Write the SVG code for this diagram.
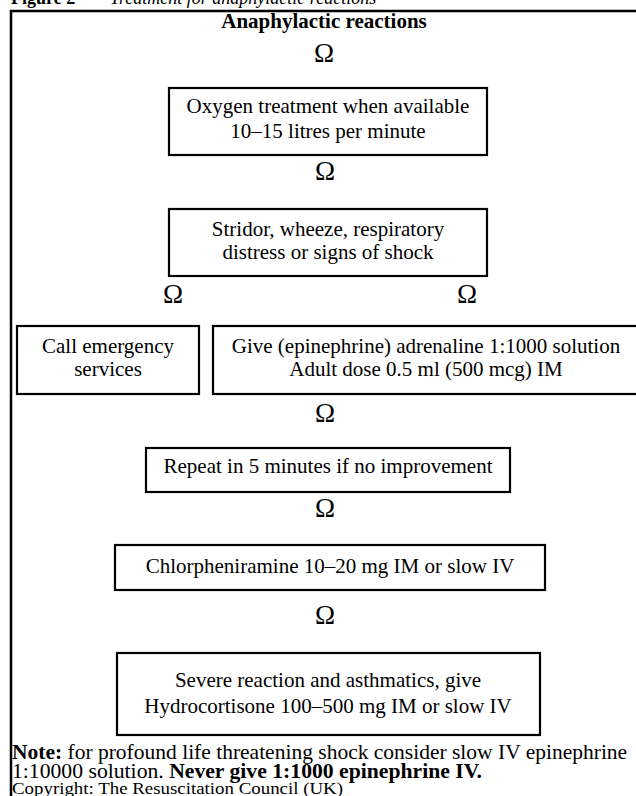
<svg xmlns="http://www.w3.org/2000/svg" width="636" height="796" viewBox="0 0 636 796">
<style>
text{font-family:"Liberation Serif","Times New Roman",serif;fill:#000}
.t{font-size:21px;text-anchor:middle}
.b{font-weight:bold}
.box{fill:#fff;stroke:#000;stroke-width:2.2}
.arr{font-size:27px;text-anchor:middle}
.note{font-size:21.5px}
</style>
<rect width="636" height="796" fill="#fff"/>
<g id="caption">
<text x="11" y="4" font-size="18" class="b">Figure 2</text>
<text x="86" y="4" font-size="18">–</text>
<text x="110" y="4" font-size="18" font-style="italic">Treatment for anaphylactic reactions</text>
</g>
<path id="frame" d="M636 11 H11 V796" fill="none" stroke="#000" stroke-width="2.5"/>
<g id="title"><text class="t b" x="324" y="28" font-size="20.5">Anaphylactic reactions</text></g>
<g id="connectors">
<text class="arr" x="324" y="62">Ω</text>
<text class="arr" x="325" y="180">Ω</text>
<text class="arr" x="173" y="303">Ω</text>
<text class="arr" x="467" y="303">Ω</text>
<text class="arr" x="325" y="422">Ω</text>
<text class="arr" x="325" y="517">Ω</text>
<text class="arr" x="325" y="624">Ω</text>
</g>
<g id="oxygen"><rect class="box" x="169" y="88" width="318" height="67"/>
<text class="t" x="328" y="113">Oxygen treatment when available</text>
<text class="t" x="328" y="138">10–15 litres per minute</text></g>
<g id="stridor"><rect class="box" x="169" y="209" width="318" height="67"/>
<text class="t" x="328" y="236">Stridor, wheeze, respiratory</text>
<text class="t" x="328" y="259">distress or signs of shock</text></g>
<g id="call"><rect class="box" x="17" y="326" width="182" height="68"/>
<text class="t" x="108" y="353">Call emergency</text>
<text class="t" x="108" y="376">services</text></g>
<g id="adrenaline"><rect class="box" x="213" y="326" width="430" height="68"/>
<text class="t" x="426" y="353">Give (epinephrine) adrenaline 1:1000 solution</text>
<text class="t" x="426" y="376">Adult dose 0.5 ml (500 mcg) IM</text></g>
<g id="repeat"><rect class="box" x="146" y="448" width="364" height="44"/>
<text class="t" x="328" y="473">Repeat in 5 minutes if no improvement</text></g>
<g id="chlorpheniramine"><rect class="box" x="115" y="545" width="430" height="45"/>
<text class="t" x="330" y="573">Chlorpheniramine 10–20 mg IM or slow IV</text></g>
<g id="hydrocortisone"><rect class="box" x="117" y="653" width="423" height="82"/>
<text class="t" x="328" y="687">Severe reaction and asthmatics, give</text>
<text class="t" x="328" y="713">Hydrocortisone 100–500 mg IM or slow IV</text></g>
<g id="note">
<text class="note" x="12" y="759"><tspan class="b">Note:</tspan> for profound life threatening shock consider slow IV epinephrine</text>
<text class="note" x="12" y="778" textLength="470" lengthAdjust="spacingAndGlyphs">1:10000 solution. <tspan class="b">Never give 1:1000 epinephrine IV.</tspan></text>
<text x="12" y="794" font-size="16.5" textLength="331" lengthAdjust="spacingAndGlyphs">Copyright: The Resuscitation Council (UK)</text>
</g>
</svg>
